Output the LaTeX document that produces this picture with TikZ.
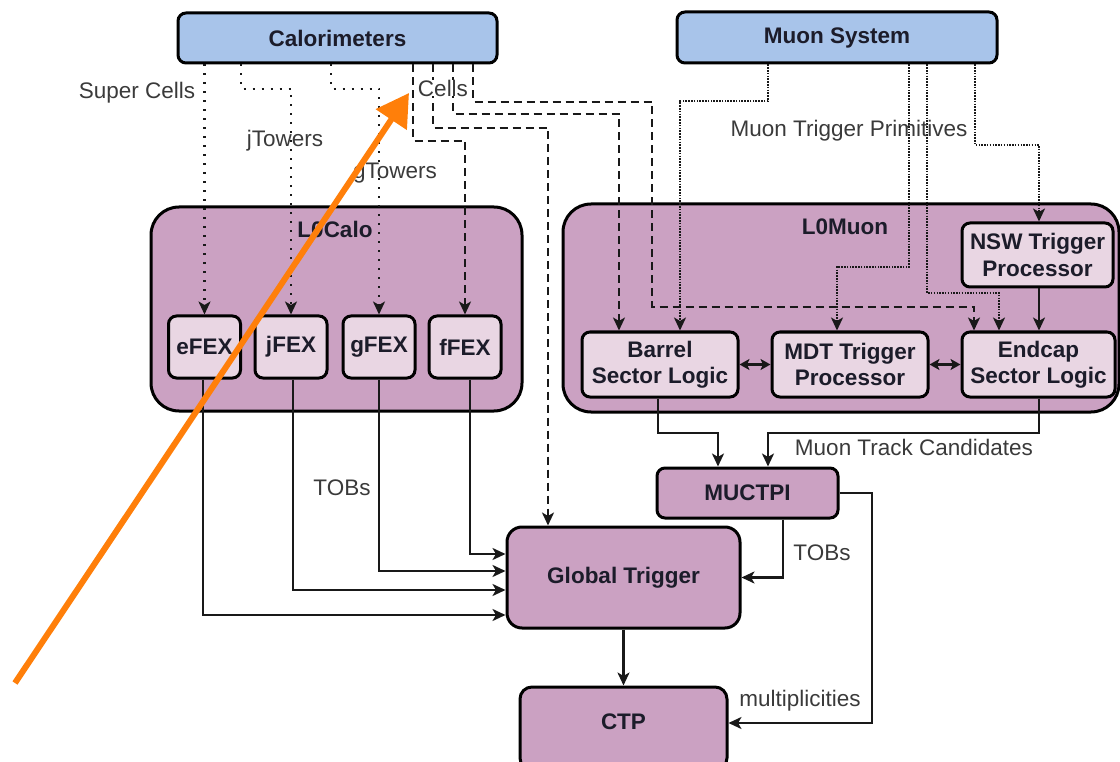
\documentclass[tikz,border=0pt]{standalone}
\usepackage{fontspec}
\setmainfont{Liberation Sans}
\usetikzlibrary{arrows.meta}
\definecolor{calblue}{HTML}{A8C4EA}
\definecolor{mauve}{HTML}{CBA1C2}
\definecolor{lightpink}{HTML}{E9D6E3}
\definecolor{boxtext}{HTML}{1C1C2A}
\definecolor{labelgray}{HTML}{3A3A3A}
\definecolor{annot}{HTML}{FF7F0A}
\newcommand{\dsize}{\fontsize{22.5}{27}\selectfont}
\newcommand{\bsize}{\fontsize{22.5}{27.5}\selectfont\bfseries}
\tikzset{
  topbox/.style={draw=black, line width=3pt, fill=calblue, rounded corners=8pt, font=\bsize, text=boxtext},
  groupbox/.style={draw=black, line width=3pt, fill=mauve, rounded corners=28pt},
  subbox/.style={draw=black, line width=3pt, fill=lightpink, rounded corners=8pt, font=\bsize, align=center, text=boxtext, inner sep=0pt},
  mainbox/.style={draw=black, line width=3pt, fill=mauve, font=\bsize, text=boxtext},
  conn/.style={line width=2.2pt, draw=black!90, -{Stealth[length=13pt,width=12pt,inset=3.5pt]}},
  biconn/.style={line width=2.2pt, draw=black!90, {Stealth[length=10pt,width=11pt,inset=2.5pt]}-{Stealth[length=10pt,width=11pt,inset=2.5pt]}},
  sparsedot/.style={conn, dash pattern=on 2pt off 7pt},
  densedot/.style={conn, dash pattern=on 1.5pt off 1.3pt},
  dashedc/.style={conn, dash pattern=on 8pt off 5pt},
  lbl/.style={text=labelgray, inner sep=0pt, font=\dsize},
  grouplbl/.style={font=\bsize, text=boxtext, inner sep=0pt},
}
\begin{document}
\begin{tikzpicture}[x=1pt, y=-1pt, font=\dsize]
\useasboundingbox (0,0) rectangle (1120,762);

% group boxes
\node[groupbox, minimum width=371pt, minimum height=204pt] (l0calo) at (336.5,309) {};
\node[grouplbl] (l0calolbl) at (335,229) {L0Calo};
\node[groupbox, minimum width=556pt, minimum height=208pt] (l0muon) at (841,308) {};
\node[grouplbl] (l0muonlbl) at (845,227) {L0Muon};

% top boxes
\node[topbox, minimum width=319pt, minimum height=50pt] (cal) at (337.5,38) {Calorimeters};
\node[topbox, minimum width=320pt, minimum height=51pt] (muon) at (837,37.5) {Muon System};

% FEX boxes
\node[subbox, minimum width=72pt, minimum height=62pt] (efex) at (204.5,347) {eFEX};
\node[subbox, minimum width=72pt, minimum height=62pt] (jfex) at (291,347) {jFEX};
\node[subbox, minimum width=72pt, minimum height=62pt] (gfex) at (379,347) {gFEX};
\node[subbox, minimum width=72pt, minimum height=62pt] (ffex) at (465,347) {fFEX};

% muon boxes
\node[subbox, minimum width=151pt, minimum height=64pt] (nsw) at (1037.5,255) {NSW Trigger\\[-1pt]Processor};
\node[subbox, minimum width=156pt, minimum height=65pt] (barrel) at (660,364.5) {Barrel\\[-1pt]Sector Logic};
\node[subbox, minimum width=156pt, minimum height=65pt] (mdt) at (850,364.5) {MDT Trigger\\[-1pt]Processor};
\node[subbox, minimum width=153pt, minimum height=65pt] (endcap) at (1038.5,364.5) {Endcap\\[-1pt]Sector Logic};

% lower boxes
\node[mainbox, rounded corners=8pt, minimum width=181pt, minimum height=50pt] (muctpi) at (747.5,493) {MUCTPI};
\node[mainbox, rounded corners=15pt, minimum width=233pt, minimum height=101pt] (global) at (623.5,577.5) {Global Trigger};
\node[mainbox, rounded corners=12pt, minimum width=207pt, minimum height=83pt] (ctp) at (623.5,728.5) {};
\node[font=\bsize, text=boxtext] (ctplbl) at (623.5,722) {CTP};

% calorimeter connectors
\draw[sparsedot] (efex.north |- cal.south) -- (efex.north);
\draw[sparsedot] (cal.south -| 241,0) |- (291,89) -- (jfex.north);
\draw[sparsedot] (cal.south -| 331,0) |- (379,89) -- (gfex.north);
\draw[dashedc] (cal.south -| 413,0) |- (465,141) -- (ffex.north);
\draw[dashedc] (cal.south -| 433,0) |- (548,128) -- (global.north -| 548,0);
\draw[dashedc] (cal.south -| 453,0) |- (619,114) -- (barrel.north -| 619,0);
\draw[dashedc] (cal.south -| 473,0) |- (652,102) |- (974,307) -- (endcap.north -| 974,0);

% muon system connectors
\draw[densedot] (muon.south -| 768,0) |- (680,101) -- (barrel.north -| 680,0);
\draw[densedot] (muon.south -| 909,0) |- (837,267) -- (mdt.north -| 837,0);
\draw[densedot] (muon.south -| 927,0) |- (999,293) -- (endcap.north -| 999,0);
\draw[densedot] (muon.south -| 975,0) |- (1039,145) -- (nsw.north -| 1039,0);

% L0Muon internal
\draw[conn] (nsw.south -| 1039,0) -- (endcap.north -| 1039,0);
\draw[biconn] (barrel.east) -- (mdt.west);
\draw[biconn] (mdt.east) -- (endcap.west);

% to MUCTPI
\draw[conn] (barrel.south -| 658,0) |- (718,433) -- (muctpi.north -| 718,0);
\draw[conn] (endcap.south -| 1039,0) |- (768,433) -- (muctpi.north -| 768,0);

% MUCTPI outputs
\draw[conn] (muctpi.south -| 783,0) |- (global.east);
\draw[conn] (muctpi.east) -| (872,723) -- (ctp.east |- 0,723);

% global to CTP
\draw[conn] (global.south) -- (ctp.north);

% FEX outputs
\draw[conn] (efex.south -| 203,0) |- (global.west |- 0,615);
\draw[conn] (jfex.south -| 293,0) |- (global.west |- 0,590);
\draw[conn] (gfex.south -| 379,0) |- (global.west |- 0,571);
\draw[conn] (ffex.south -| 470,0) |- (global.west |- 0,554);

% labels
\node[lbl] (lsuper) at (137,93) {Super Cells};
\node[lbl] (ljt) at (285,141) {jTowers};
\node[lbl] (lgt) at (395,173) {gTowers};
\node[lbl, fill=white] (lcells) at (443,88) {Cells};
\node[lbl] (lmtp) at (849,131) {Muon Trigger Primitives};
\node[lbl] (lmtc) at (914,447) {Muon Track Candidates};
\node[lbl] (ltobs1) at (342,488) {TOBs};
\node[lbl] (ltobs2) at (822,553) {TOBs};
\node[lbl] (lmult) at (800,701) {multiplicities};

% annotation arrow
\coordinate (annstart) at (15,683);
\coordinate (anntip) at (409,93);
\draw[annot, line width=6pt, -{Triangle[length=32pt,width=36pt]}] (annstart) -- (anntip);
\end{tikzpicture}
\end{document}
